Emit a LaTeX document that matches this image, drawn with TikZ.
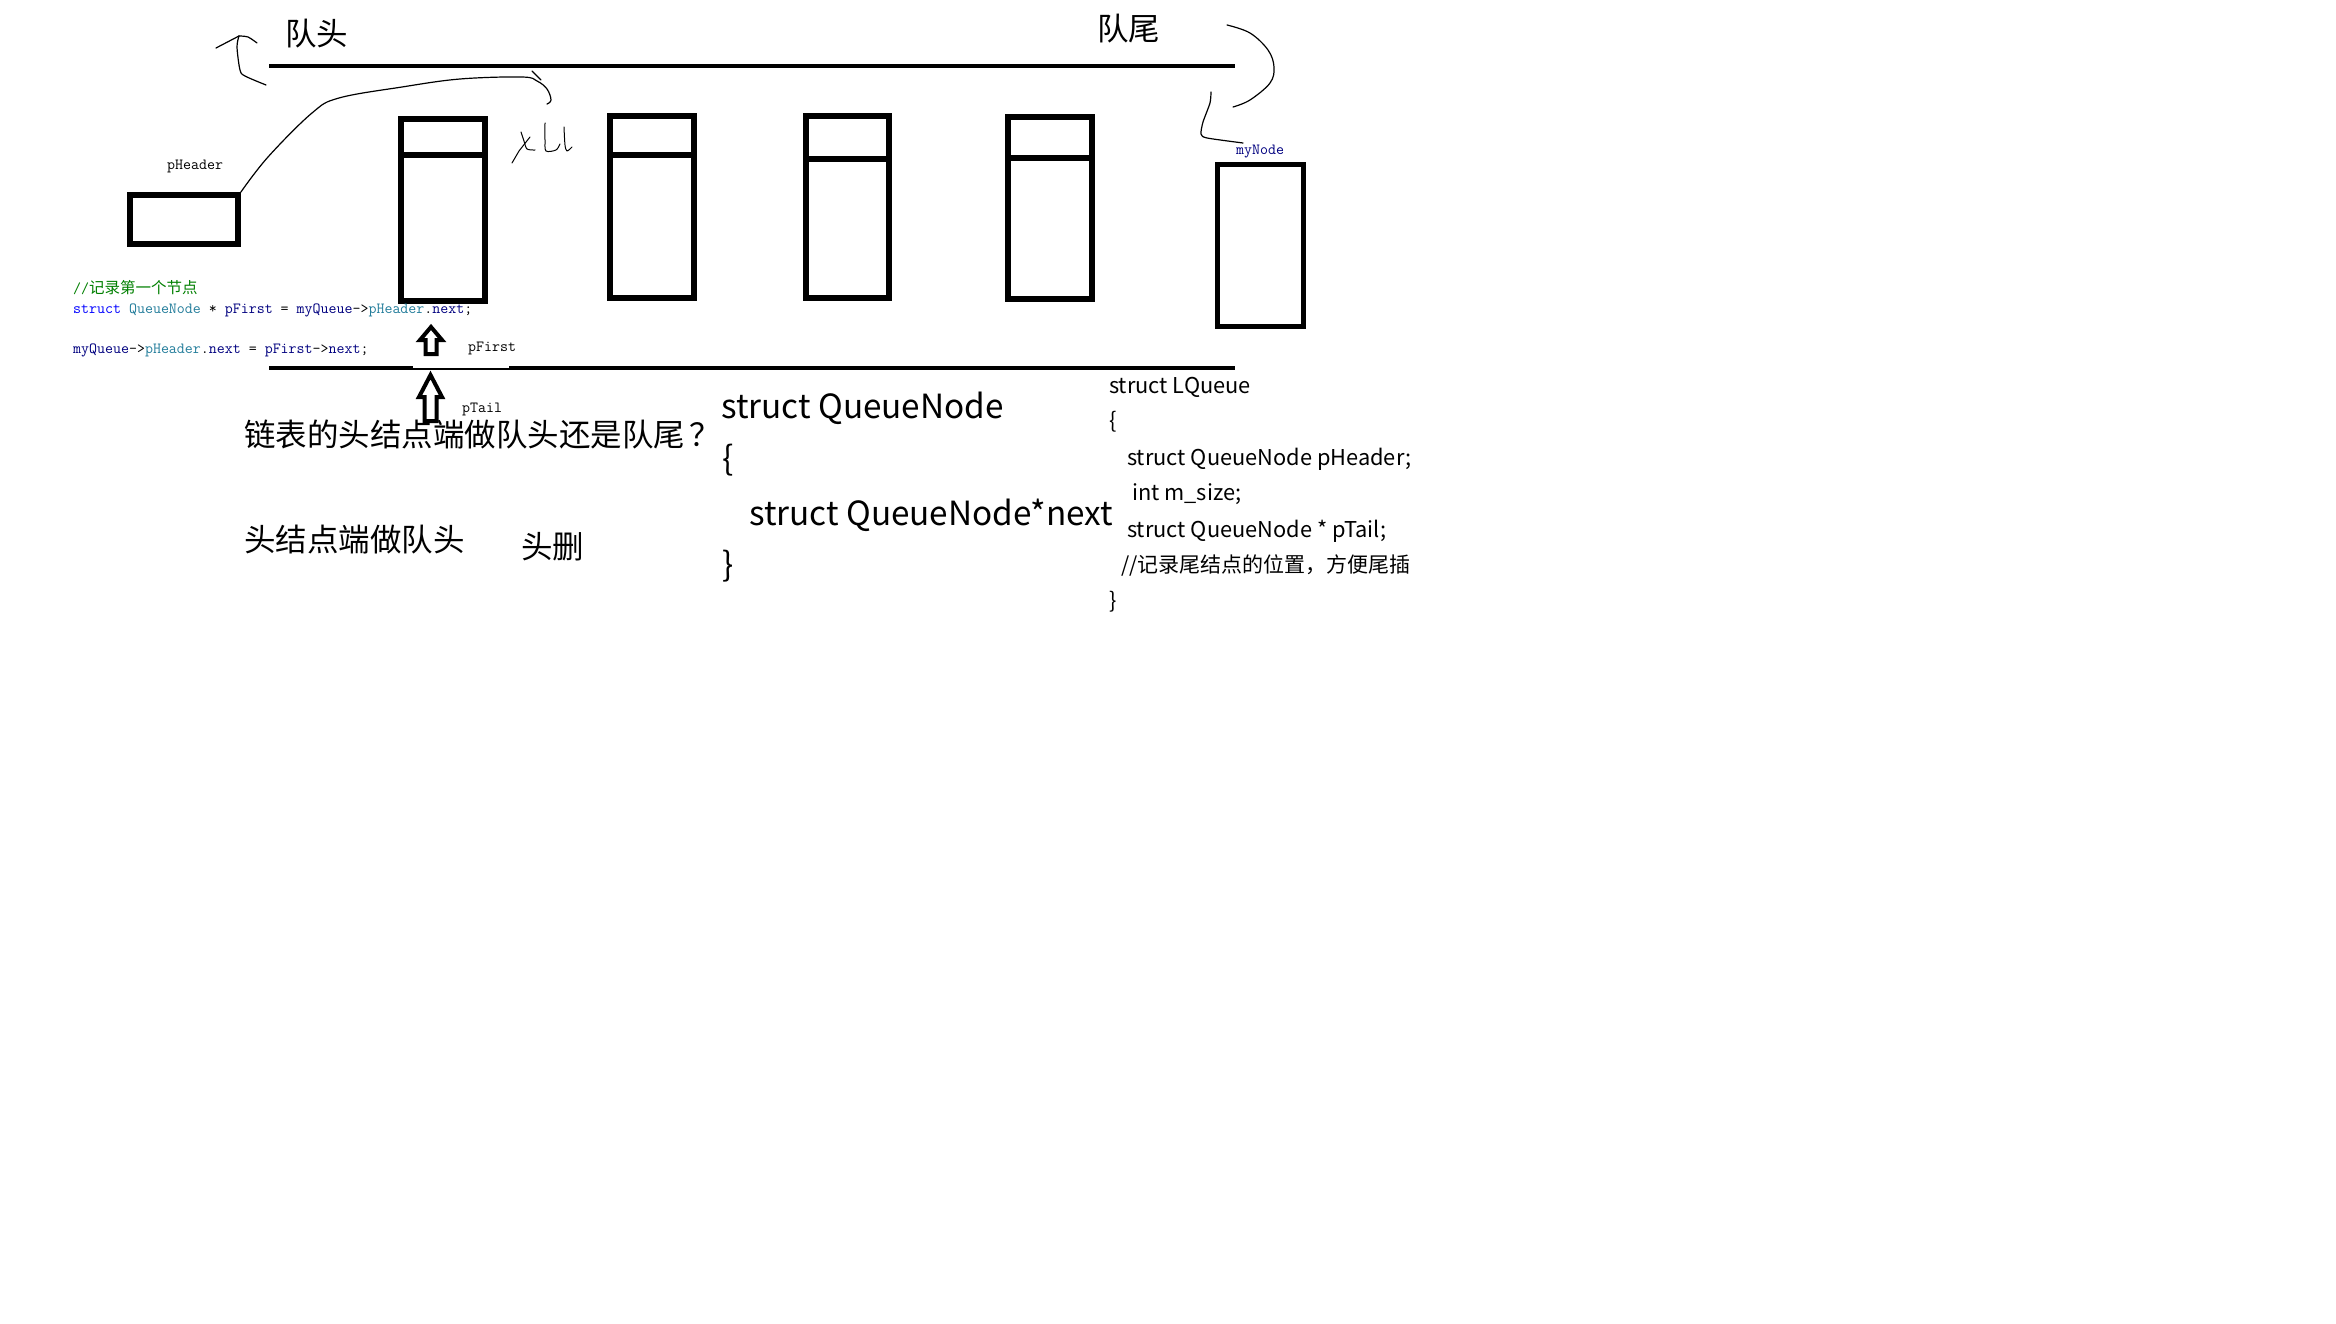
\documentclass[tikz,border=0pt]{standalone}
\usepackage{fontspec}
\newfontfamily\cjk{Noto Sans CJK SC}
\definecolor{kwblue}{RGB}{0,0,255}
\definecolor{tyteal}{RGB}{35,125,155}
\definecolor{idnavy}{RGB}{0,0,128}
\definecolor{cmgreen}{RGB}{0,128,0}
\tikzset{
  qbox/.style={draw, line width=5.5pt, inner sep=0pt, minimum width=84pt, minimum height=182pt},
  bar/.style={line width=4.5pt},
  divider/.style={line width=5.5pt},
  hand/.style={line width=1.2pt, line cap=round, line join=round},
  blockarrow/.style={line width=4pt, fill=white, line join=miter},
  bigcjk/.style={inner sep=0pt, anchor=base west, font=\cjk\fontsize{31.5}{34}\selectfont},
  bigcode/.style={inner sep=0pt, anchor=base west, font=\cjk\fontsize{33.3}{36}\selectfont},
  midcode/.style={inner sep=0pt, anchor=base west, font=\cjk\fontsize{21.8}{24}\selectfont},
  smallcode/.style={inner sep=0pt, anchor=base west, font=\ttfamily\fontsize{15.5}{16}\selectfont},
}
\begin{document}
\begin{tikzpicture}[x=1pt,y=-1pt]
\useasboundingbox[fill=white] (0,0) rectangle (2336,1324);

% queue rails
\coordinate (topL) at (269,66);
\coordinate (topR) at (1235,66);
\coordinate (botL) at (269,368);
\coordinate (botR) at (1235,368);
\draw[bar] (topL) -- (topR);
\draw[bar] (botL) -- (botR);
\fill[white] (413,365.6) rectangle (509,368);

% labels on top
\node[bigcjk] (qhead) at (285,46) {队头};
\node[bigcjk] (qtail) at (1097,41) {队尾};

% pHeader box
\node[draw, line width=5.5pt, inner sep=0pt, minimum width=108pt, minimum height=49pt] (ph) at (184,219.5) {};
\node[smallcode] (phlbl) at (167,170) {pHeader};

% queue nodes
\node[qbox] (n1) at (443,210) {};
\node[qbox] (n2) at (652,207) {};
\node[qbox, minimum width=83pt] (n3) at (847.5,207) {};
\node[qbox] (n4) at (1050,208) {};
\draw[divider] ([yshift=-39pt]n1.north west) -- ([yshift=-39pt]n1.north east);
\draw[divider] ([yshift=-42pt]n2.north west) -- ([yshift=-42pt]n2.north east);
\draw[divider] ([yshift=-46pt]n3.north west) -- ([yshift=-46pt]n3.north east);
\draw[divider] ([yshift=-44pt]n4.north west) -- ([yshift=-44pt]n4.north east);

% myNode
\node[qbox, line width=5pt, minimum width=86pt, minimum height=161pt] (mn) at (1260,245.5) {};
\node[smallcode, text=idnavy] (mnlbl) at (1236,155) {myNode};

% hand-drawn strokes
\draw[hand] plot[smooth, tension=0.6] coordinates {(ph.north east) (268,157) (312,113) (339,98) (402,87) (460,79) (522,77) (537,81) (547,89) (551,100) (547,104)};
\draw[hand] (532,71) -- (541,80);
\draw[hand] plot[smooth, tension=0.5] coordinates {(266,85) (245,76) (240,70) (237,47) (239,36)};
\draw[hand] (216,48) -- (239,36);
\draw[hand] plot[smooth, tension=0.5] coordinates {(239,36) (248,37) (257,43)};
\draw[hand] plot[smooth, tension=0.6] coordinates {(1227,25) (1250,33) (1268,50) (1274,67) (1270,83) (1250,100) (1233,107)};
\draw[hand] plot[smooth, tension=0.4] coordinates {(1211,92) (1210,103) (1203,122) (1201,134) (1207,138) (1243,143)};
% scribble
\draw[hand, line width=1pt] (512,163) -- (519,151) -- (530,137);
\draw[hand, line width=1pt] plot[smooth] coordinates {(521,132) (524,141) (527,149) (535,150)};
\draw[hand, line width=1pt] plot[smooth] coordinates {(545,123) (545,140) (546,151) (556,150) (560,144)};
\draw[hand, line width=1pt] plot[smooth] coordinates {(564,127) (565,145) (567,151) (572,147)};

% block arrows
\draw[blockarrow] (431,327) -- (442,340) -- (436.5,340) -- (436.5,354) -- (425.5,354) -- (425.5,340) -- (420,340) -- cycle;
\draw[blockarrow] (430.5,375) -- (442,397) -- (436.5,397) -- (436.5,421) -- (424.5,421) -- (424.5,397) -- (419,397) -- cycle;
\node[smallcode] (pflbl) at (468,351) {pFirst};
\node[smallcode] (ptlbl) at (462,412) {pTail};

% code snippet
\node[smallcode, text=cmgreen] (c1) at (73,294) {//{\cjk\fontsize{15.5}{16}\selectfont 记录第一个节点}};
\node[smallcode] (c2) at (73,313) {\textcolor{kwblue}{struct} \textcolor{tyteal}{QueueNode} * \textcolor{idnavy}{pFirst} = \textcolor{idnavy}{myQueue}->\textcolor{tyteal}{pHeader}.\textcolor{idnavy}{next};};
\node[smallcode] (c3) at (73,353) {\textcolor{idnavy}{myQueue}->\textcolor{tyteal}{pHeader}.\textcolor{idnavy}{next} = \textcolor{idnavy}{pFirst}->\textcolor{idnavy}{next};};

% questions
\node[bigcjk] (q1) at (244,446) {链表的头结点端做队头还是队尾\kern0.15em？};
\node[bigcjk] (q2) at (244,551) {头结点端做队头};
\node[bigcjk] (q3) at (521,558) {头删};

% struct QueueNode
\node[bigcode] (s1) at (721,418) {struct QueueNode};
\node[bigcode] (s2) at (722,470) {\{};
\node[bigcode] (s3) at (749,525) {struct QueueNode*next};
\node[bigcode] (s4) at (722,576) {\}};

% struct LQueue
\node[midcode] (l1) at (1109,393) {struct LQueue};
\node[midcode] (l2) at (1109,428) {\{};
\node[midcode] (l3) at (1127,465) {struct QueueNode pHeader;};
\node[midcode] (l4) at (1132,500) {int m\_size;};
\node[midcode] (l5) at (1127,537) {struct QueueNode * pTail;};
\node[inner sep=0pt, anchor=base west, font=\cjk\fontsize{21}{24}\selectfont] (l6) at (1121,572) {//记录尾结点的位置，方便尾插};
\node[midcode] (l7) at (1109,608) {\}};
\end{tikzpicture}
\end{document}
